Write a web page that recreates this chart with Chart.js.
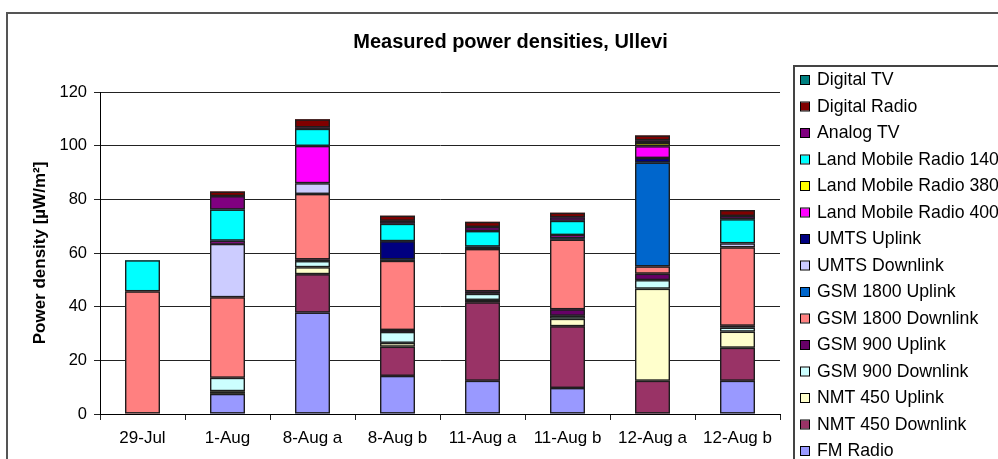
<!DOCTYPE html>
<html>
<head>
<meta charset="utf-8">
<title>Measured power densities, Ullevi</title>
<script src="https://cdn.jsdelivr.net/npm/chart.js@4.4.1/dist/chart.umd.min.js"></script>
<style>
  html, body { margin: 0; padding: 0; background: #fff; overflow: hidden; }
  canvas { display: block; }
</style>
</head>
<body>
<canvas id="ch" width="998" height="459"></canvas>
<script>
// ---- data (µW/m²) ----
const categories = ['29-Jul', '1-Aug', '8-Aug a', '8-Aug b', '11-Aug a', '11-Aug b', '12-Aug a', '12-Aug b'];
const yMin = 0, yMax = 120, yStep = 20;

// bottom of the stack first
const fmRadio      = [0,    7.5, 37.8, 14.2, 12.4,  9.7,  0,   12.4];
const nmt450Down   = [0,    0,   14.3, 10.9, 29.2, 23.0, 12.4, 12.3];
const nmt450Up     = [0,    1.0,  2.6,  1.4,  0.9,  2.8, 34.3,  6.0];
const gsm900Down   = [0,    5.0,  2.3,  4.1,  2.3,  1.1,  3.2,  1.5];
const gsm900Up     = [0,    0,    0.6,  0.7,  0.9,  2.4,  2.4,  0.7];
const gsm1800Down  = [45.7, 30.0, 24.4, 25.8, 15.8, 26.0,  2.7, 29.2];
const gsm1800Up    = [0,    0,    0,    0.5,  0.9,  0.5, 38.7,  0];
const umtsDown     = [0,   19.9,  4.0,  0,    0,    0,    0,    1.5];
const umtsUp       = [0,    0,    0,    6.8,  0,    0,    1.7,  0];
const lmr400       = [0,    1.2, 13.9,  0,    0,    1.2,  4.4,  0];
const lmr380       = [0,    0,    0,    0,    0,    0,    1.2,  0];
const lmr140       = [11.6, 11.6, 6.4,  6.5,  5.8,  5.3,  0,    9.0];
const analogTV     = [0,    5.0,  0.5,  1.1,  1.5,  1.3,  1.0,  1.2];
const digitalRadio = [0,    1.7,  3.0,  1.9,  1.9,  1.7,  1.8,  2.2];
const digitalTV    = [0,    0,    0,    0,    0,    0,    0,    0];

const series = [
  {label:'FM Radio',              data:fmRadio,      color:'#9999ff'},
  {label:'NMT 450 Downlink',      data:nmt450Down,   color:'#993366'},
  {label:'NMT 450 Uplink',        data:nmt450Up,     color:'#ffffcc'},
  {label:'GSM 900 Downlink',      data:gsm900Down,   color:'#ccffff'},
  {label:'GSM 900 Uplink',        data:gsm900Up,     color:'#660066'},
  {label:'GSM 1800 Downlink',     data:gsm1800Down,  color:'#ff8080'},
  {label:'GSM 1800 Uplink',       data:gsm1800Up,    color:'#0066cc'},
  {label:'UMTS Downlink',         data:umtsDown,     color:'#ccccff'},
  {label:'UMTS Uplink',           data:umtsUp,       color:'#000080'},
  {label:'Land Mobile Radio 400', data:lmr400,       color:'#ff00ff'},
  {label:'Land Mobile Radio 380', data:lmr380,       color:'#ffff00'},
  {label:'Land Mobile Radio 140', data:lmr140,       color:'#00ffff'},
  {label:'Analog TV',             data:analogTV,     color:'#800080'},
  {label:'Digital Radio',         data:digitalRadio, color:'#800000'},
  {label:'Digital TV',            data:digitalTV,    color:'#008080'}
];

const FONT = "'Liberation Sans', Arial, sans-serif";
Chart.defaults.font.family = FONT;
Chart.defaults.color = '#000';

// outline every stacked segment (Excel style dark edges)
const outlines = {
  id: 'outlines',
  afterDatasetsDraw(chart){
    const c = chart.ctx;
    c.save();
    c.strokeStyle = '#1e1e1e';
    c.lineWidth = 1.4;
    chart.data.datasets.forEach((d, di) => {
      chart.getDatasetMeta(di).data.forEach(el => {
        const p = el.getProps(['x', 'y', 'base', 'width'], true);
        const h = Math.abs(p.base - p.y);
        if (h < 0.5) return;
        c.strokeRect(p.x - p.width / 2 + 0.7, Math.min(p.y, p.base) + 0.7, p.width - 1.4, h - 1.4 > 0 ? h - 1.4 : 0.1);
      });
    });
    c.restore();
  }
};

// frame, title and the boxed legend on the right
const decor = {
  id: 'decor',
  beforeDraw(chart){
    const c = chart.ctx;
    c.save();
    c.fillStyle = '#fff';
    c.fillRect(0, 0, chart.width, chart.height);
    c.strokeStyle = '#555';
    c.lineWidth = 2;
    c.strokeRect(7, 13, 1200, 1000);
    c.restore();
  },
  afterDraw(chart){
    const c = chart.ctx;
    c.save();
    c.fillStyle = '#000';
    c.font = 'bold 20px ' + FONT;
    c.textAlign = 'center';
    c.textBaseline = 'alphabetic';
    c.fillText('Measured power densities, Ullevi', 510.5, 47.5);

    // legend box
    c.strokeStyle = '#444';
    c.lineWidth = 2;
    c.strokeRect(794, 66, 400, 500);
    c.font = '17.7px ' + FONT;
    c.textAlign = 'left';
    c.textBaseline = 'middle';
    const ds = chart.data.datasets.slice().reverse();
    ds.forEach((d, i) => {
      const y = 80 + i * 26.5;
      c.fillStyle = d.backgroundColor;
      c.fillRect(801, y - 4, 8, 8);
      c.strokeStyle = '#000';
      c.lineWidth = 1;
      c.strokeRect(800.5, y - 4.5, 9, 9);
      c.fillStyle = '#000';
      c.fillText(d.label, 817, y + 0.5);
    });
    c.restore();
  }
};

new Chart(document.getElementById('ch'), {
  type: 'bar',
  data: {
    labels: categories,
    datasets: series.map(s => ({
      label: s.label,
      data: s.data,
      backgroundColor: s.color,
      borderWidth: 0,
      inflateAmount: 0,
      barPercentage: 35 / 85,
      categoryPercentage: 1
    }))
  },
  options: {
    responsive: false,
    animation: false,
    devicePixelRatio: 1,
    layout: { padding: { left: 0, right: 218, top: 92, bottom: 0 } },
    plugins: { legend: { display: false }, title: { display: false }, tooltip: { enabled: false } },
    scales: {
      x: {
        stacked: true,
        offset: true,
        grid: { display: true, offset: true, drawOnChartArea: false, drawTicks: true, tickLength: 6, color: '#222' },
        border: { display: true, color: '#000', width: 1 },
        ticks: { font: { size: 17 }, color: '#000', padding: 8, maxRotation: 0, autoSkip: false },
        afterFit: s => { s.height = 45; }
      },
      y: {
        stacked: true,
        min: yMin,
        max: yMax,
        grid: { color: '#222', lineWidth: 1, tickLength: 6 },
        border: { display: true, color: '#000', width: 1 },
        ticks: { stepSize: yStep, font: { size: 16.5 }, color: '#000', padding: 7 },
        title: { display: true, text: 'Power density [µW/m²]', font: { size: 17, weight: 'bold' }, color: '#000', padding: { top: 30, bottom: 0 } },
        afterFit: s => { s.width = 100; }
      }
    }
  },
  plugins: [outlines, decor]
});
</script>
</body>
</html>
